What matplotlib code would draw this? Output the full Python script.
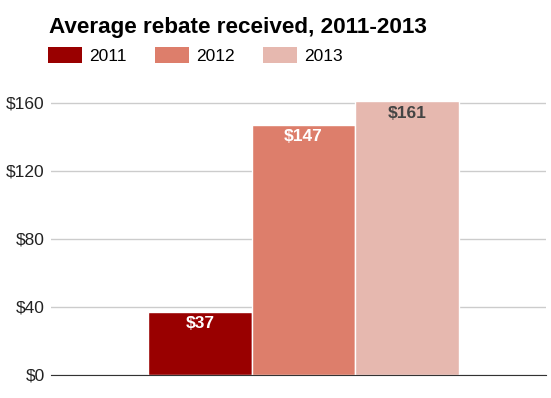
import matplotlib.pyplot as plt
from matplotlib.patches import Patch

years = ['2011', '2012', '2013']
rebates = [37, 147, 161]
colors = ['#990000', '#dd7e6b', '#e6b8af']
labelColors = ['white', 'white', '#444444']
yTicks = [0, 40, 80, 120, 160]

fig = plt.figure(figsize=(5.51, 3.98), dpi=100)
ax = fig.add_axes([51 / 551, 23 / 398, 495 / 551, 289 / 398])

positions = [-1, 0, 1]
bars = ax.bar(positions, rebates, width=1.0, color=colors, edgecolor='white', linewidth=1, zorder=3)

for bar, value, lc in zip(bars, rebates, labelColors):
    ax.annotate('$' + str(value), (bar.get_x() + bar.get_width() / 2, value),
                xytext=(0, -8.5), textcoords='offset points', ha='center', va='center',
                fontsize=12.5, fontweight='bold', color=lc, family='Liberation Sans', zorder=4)

ax.set_xlim(-2.435, 2.339)
ax.set_ylim(0, 170)
ax.set_yticks(yTicks, ['$' + str(t) for t in yTicks])
ax.set_xticks([])
ax.grid(axis='y', color='#cccccc', linewidth=1, zorder=0)
for side in ['top', 'right', 'left']:
    ax.spines[side].set_visible(False)
ax.spines['bottom'].set_color('#333333')
ax.spines['bottom'].set_zorder(5)
ax.tick_params(axis='y', length=0, pad=4.5, labelsize=12.5, labelcolor='#222222')
for lbl in ax.get_yticklabels():
    lbl.set_family('Liberation Sans')

fig.text(49 / 551, 1 - 33 / 398, 'Average rebate received, 2011-2013', fontsize=16.2,
         fontweight='bold', family='Liberation Sans', ha='left', va='baseline')

handles = [Patch(facecolor=c, edgecolor='none') for c in colors]
fig.legend(handles, years, loc='upper left', bbox_to_anchor=(43 / 551, 1 - 42 / 398), ncol=3,
           frameon=False, prop={'family': 'Liberation Sans', 'size': 12.5},
           handlelength=1.96, handleheight=1.03, handletextpad=0.42, columnspacing=1.6,
           borderaxespad=0, borderpad=0.3)

fig.savefig('out.png', dpi=100)
